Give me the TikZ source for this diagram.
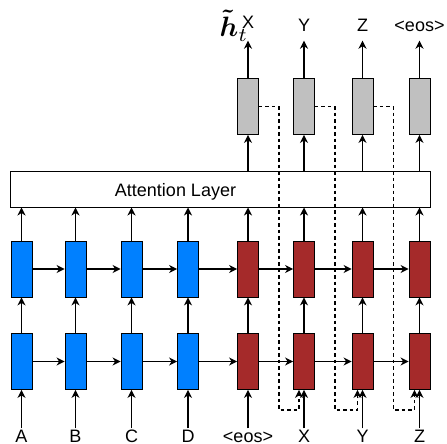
\documentclass[tikz,border=0pt]{standalone}
\usepackage{amsmath}
\usepackage{fontspec}
\setmainfont{Liberation Sans}
\usetikzlibrary{arrows.meta,calc}
\definecolor{encblue}{RGB}{0,128,255}
\definecolor{decred}{RGB}{165,42,42}
\definecolor{outgray}{RGB}{192,192,192}
\begin{document}
\begin{tikzpicture}[x=1pt,y=-1pt,
 cell/.style={draw=black,line width=0.8pt,minimum width=21pt,minimum height=56pt,inner sep=0pt},
 enc/.style={cell,fill=encblue},
 dec/.style={cell,fill=decred},
 outc/.style={cell,fill=outgray},
 arr/.style={line width=1.6pt,-{Stealth[length=8pt,width=8pt,inset=2.5pt]}},
 feed/.style={line width=1.6pt,dash pattern=on 3.5pt off 3pt,-{Stealth[length=8pt,width=8pt,inset=2.5pt]}},
 lab/.style={font=\fontsize{18}{20}\selectfont,inner sep=0.5pt,text height=13pt,text depth=0pt,anchor=base},
]
\useasboundingbox (0,0) rectangle (447,444);
% attention layer
\node[draw=black,line width=1pt,minimum width=420pt,minimum height=36pt,inner sep=0pt] (att) at (220,189) {};
\node[lab,anchor=center] (attlab) at (175.5,189.5) {Attention Layer};
% encoder cells
\foreach \i/\x in {1/21.5,2/75.5,3/131.5,4/188} {
 \node[enc] (et\i) at (\x,269) {};
 \node[enc] (eb\i) at (\x,361.5) {};
}
% decoder cells
\foreach \i/\x in {1/248,2/304,3/362.5,4/419.5} {
 \node[dec] (dt\i) at (\x,269) {};
 \node[dec] (db\i) at (\x,361.5) {};
 \node[outc] (g\i) at (\x,106.5) {};
}
% input labels
\node[lab] (inA) at (21.5,442) {A};
\node[lab] (inB) at (75.5,442) {B};
\node[lab] (inC) at (131.5,442) {C};
\node[lab] (inD) at (188,442) {D};
\node[lab] (in5) at (248,442) {<eos>};
\node[lab] (in6) at (304,442) {X};
\node[lab] (in7) at (362.5,442) {Y};
\node[lab] (in8) at (419.5,442) {Z};
\foreach \c/\i in {inA/eb1,inB/eb2,inC/eb3,inD/eb4,in5/db1,in6/db2,in7/db3,in8/db4}
 \draw[arr] (\c.north) -- (\i.south);
% output labels
\node[lab] (o1) at (248,29) {X};
\node[lab] (o2) at (304,32) {Y};
\node[lab] (o3) at (362.5,32) {Z};
\node[lab] (o4) at (419.5,32) {<eos>};
\node[anchor=base west,inner sep=0pt,scale=2.8] (ht) at (219,37) {$\boldsymbol{\tilde{h}}_t$};
\draw[arr,shorten >=11pt] (g1.north) -- (o1.south);
\foreach \i in {2,3,4}
 \draw[arr,shorten >=8pt] (g\i.north) -- (o\i.south);
% vertical connections
\foreach \i in {1,2,3,4} {
 \draw[arr] (eb\i.north) -- (et\i.south);
 \draw[arr] (et\i.north) -- (et\i.north |- att.south);
 \draw[arr] (db\i.north) -- (dt\i.south);
 \draw[arr] (dt\i.north) -- (dt\i.north |- att.south);
 \draw[arr] (g\i.south |- att.north) -- (g\i.south);
}
% horizontal recurrences
\foreach \r in {t,b} {
 \draw[arr] (e\r1.east) -- (e\r2.west);
 \draw[arr] (e\r2.east) -- (e\r3.west);
 \draw[arr] (e\r3.east) -- (e\r4.west);
 \draw[arr] (e\r4.east) -- (d\r1.west);
 \draw[arr] (d\r1.east) -- (d\r2.west);
 \draw[arr] (d\r2.east) -- (d\r3.west);
 \draw[arr] (d\r3.east) -- (d\r4.west);
}
% input feeding
\draw[feed] (g1.east) -- ++(20,0) |- ($(db2.south)+(-5,20)$) -- ([xshift=-5pt]db2.south);
\draw[feed] (g2.east) -- ++(20,0) |- ($(db3.south)+(-5,20)$) -- ([xshift=-5pt]db3.south);
\draw[feed] (g3.east) -- ++(20,0) |- ($(db4.south)+(-5,20)$) -- ([xshift=-5pt]db4.south);
\end{tikzpicture}
\end{document}
